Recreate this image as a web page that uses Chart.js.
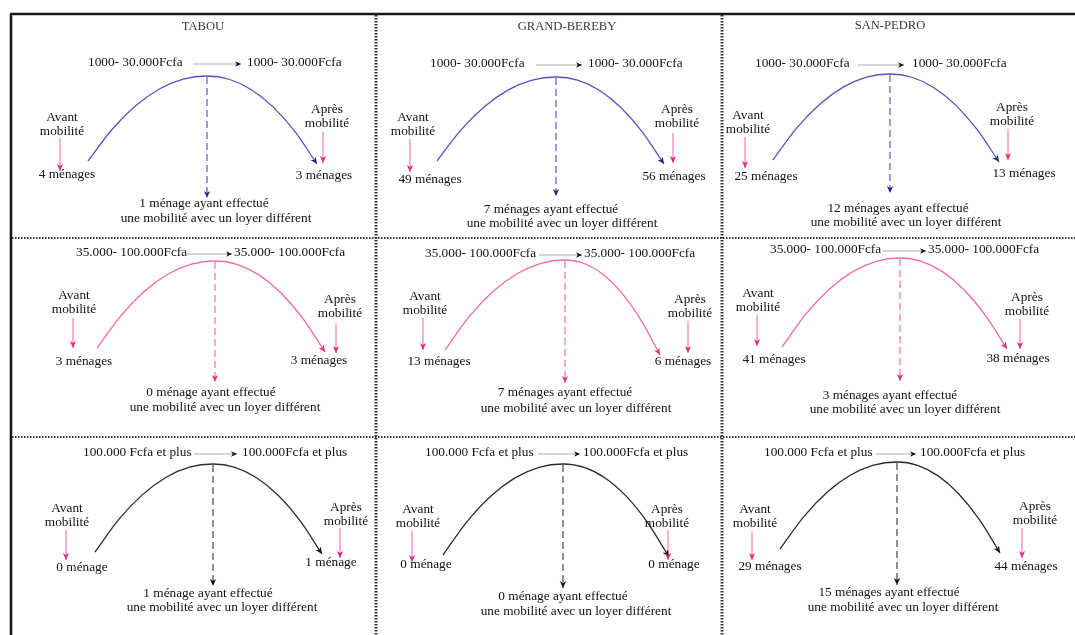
<!DOCTYPE html>
<html><head><meta charset="utf-8">
<script src="https://cdn.jsdelivr.net/npm/chart.js@4.4.0/dist/chart.umd.min.js"></script>
<style>html,body{margin:0;padding:0;background:#fff;}#wrap{width:1075px;height:635px;}</style>
</head><body><div id="wrap"><canvas id="c" width="1075" height="635"></canvas></div>
<script>
// ---- data ----
const cities = ['TABOU', 'GRAND-BEREBY', 'SAN-PEDRO'];
const rentBefore = ['1000- 30.000Fcfa', '35.000- 100.000Fcfa', '100.000 Fcfa et plus'];
const rentAfter = ['1000- 30.000Fcfa', '35.000- 100.000Fcfa', '100.000Fcfa et plus'];
const householdsBefore = [[4, 49, 25], [3, 13, 41], [0, 0, 29]];
const householdsAfter = [[3, 56, 13], [3, 6, 38], [1, 0, 44]];
const householdsChanged = [[1, 7, 12], [0, 7, 3], [1, 0, 15]];
const labelAvant = ['Avant', 'mobilité'];
const labelApres = ['Après', 'mobilité'];
const labelChanged1 = 'ayant effectué';
const labelChanged2 = 'une mobilité avec un loyer différent';

// ---- layout (pixel positions of each panel's parts) ----
const titlePos = [[203, 27], [567, 27], [890, 26]];
const L = [
 [
  {lx:88, ly:63, ax1:193, ax2:241, rx:247, s:[88,161], a:[207,76], e:[317,164], d:198, av:[62,118], avA:[60,138,171], bc:[67,175], ap:[327,110], apA:[323,132,163], ac:[324,176], b1:[204,204], b2:[216,219]},
  {lx:430, ly:64, ax1:536, ax2:582, rx:588, s:[437,161], a:[556,77], e:[664,164], d:196, av:[413,118], avA:[410,139,172], bc:[430,180], ap:[677,110], apA:[673,133,163], ac:[674,177], b1:[551,210], b2:[562,224]},
  {lx:755, ly:64, ax1:858, ax2:904, rx:912, s:[773,160], a:[890,74], e:[999,162], d:193, av:[748,116], avA:[745,137,168], bc:[766,177], ap:[1012,108], apA:[1008,129,160], ac:[1024,174], b1:[898,209], b2:[906,223]}
 ],
 [
  {lx:76, ly:253, ax1:187, ax2:232, rx:234, s:[97,348], a:[215,261], e:[325,352], d:382, av:[74,296], avA:[73,318,348], bc:[84,362], ap:[340,300], apA:[336,323,353], ac:[319,361], b1:[211,393], b2:[225,408]},
  {lx:425, ly:254, ax1:539, ax2:582, rx:584, s:[445,350], a:[565,260], e:[660,355], d:383, av:[425,297], avA:[423,318,350], bc:[439,362], ap:[690,300], apA:[688,321,353], ac:[683,362], b1:[565,393], b2:[576,409]},
  {lx:770, ly:250, ax1:882, ax2:926, rx:928, s:[782,347], a:[900,258], e:[1007,349], d:381, av:[758,294], avA:[757,315,346], bc:[774,360], ap:[1027,298], apA:[1020,319,349], ac:[1018,359], b1:[890,396], b2:[905,410]}
 ],
 [
  {lx:83, ly:453, ax1:194, ax2:237, rx:242, s:[95,552], a:[213,464], e:[322,554], d:586, av:[67,509], avA:[66,530,560], bc:[82,568], ap:[346,508], apA:[340,528,558], ac:[331,563], b1:[208,594], b2:[222,608]},
  {lx:425, ly:453, ax1:538, ax2:580, rx:583, s:[443,555], a:[563,464], e:[669,557], d:588, av:[418,510], avA:[412,531,562], bc:[426,565], ap:[667,510], apA:[668,530,560], ac:[674,565], b1:[563,597], b2:[576,612]},
  {lx:764, ly:453, ax1:876, ax2:916, rx:920, s:[780,549], a:[897,462], e:[1000,553], d:585, av:[755,510], avA:[752,531,560], bc:[770,567], ap:[1035,507], apA:[1022,528,558], ac:[1026,567], b1:[889,593], b2:[903,608]}
 ]
];
const arcSteps = [1, 0.8, 0.6, 0.4, 0.2, 0]; // fractions along each half of the arc
const arcShape = 2.05;                        // roundness of the arc hump
const rowArc = ['#5a50bd', '#f06aaa', '#2b2b2b'];
const rowDash = ['#6a66cf', '#f27ab8', '#555555'];
const rowHead = ['#26268a', '#e2307f', '#111111'];
const pinkShaft = '#f27fb6';
const pinkHead = '#e5287f';
const FONT = '13.3px "Liberation Serif", "Times New Roman", serif';

function plural(n) { return n > 1 ? 's' : ''; }
function countLabel(n) { return n + ' ménage' + plural(n); }

// geometric path of the hump connector (layout only)
function arcPath(g) {
  const pts = [];
  arcSteps.forEach(u => pts.push({ x: g.a[0] - (g.a[0] - g.s[0]) * u, y: g.a[1] + (g.s[1] - g.a[1]) * Math.pow(u, arcShape) }));
  arcSteps.slice().reverse().slice(1).forEach(u => pts.push({ x: g.a[0] + (g.e[0] - g.a[0]) * u, y: g.a[1] + (g.e[1] - g.a[1]) * Math.pow(u, arcShape) }));
  return pts;
}

// ---- datasets ----
const datasets = [];
for (let r = 0; r < 3; r++) {
  for (let c = 0; c < 3; c++) {
    const g = L[r][c];
    datasets.push({ data: arcPath(g),
      borderColor: rowArc[r], borderWidth: 1.3, tension: 0.3, arrow: rowHead[r], headSize: 7 });
    datasets.push({ data: [{x:g.a[0],y:g.a[1]+1},{x:g.a[0],y:g.d}],
      borderColor: rowDash[r], borderWidth: 1.3, borderDash: [7,4], tension: 0, arrow: rowHead[r], headSize: 7 });
    datasets.push({ data: [{x:g.ax1,y:g.ly+1},{x:g.ax2,y:g.ly+1}],
      borderColor: '#9a9a9a', borderWidth: 0.8, tension: 0, arrow: '#111', headSize: 6 });
    datasets.push({ data: [{x:g.avA[0],y:g.avA[1]},{x:g.avA[0],y:g.avA[2]}],
      borderColor: pinkShaft, borderWidth: 1.2, tension: 0, arrow: pinkHead, headSize: 7 });
    datasets.push({ data: [{x:g.apA[0],y:g.apA[1]},{x:g.apA[0],y:g.apA[2]}],
      borderColor: pinkShaft, borderWidth: 1.2, tension: 0, arrow: pinkHead, headSize: 7 });
  }
}

const framePlugin = {
  id: 'frame',
  beforeDatasetsDraw(chart) {
    const ctx = chart.ctx, X = chart.scales.x, Y = chart.scales.y;
    const px = v => X.getPixelForValue(v), py = v => Y.getPixelForValue(v);
    ctx.save();
    ctx.strokeStyle = '#1a1a1a'; ctx.lineWidth = 2.6; ctx.setLineDash([]);
    ctx.beginPath(); ctx.moveTo(px(10), py(14)); ctx.lineTo(px(1075), py(14)); ctx.stroke();
    ctx.beginPath(); ctx.moveTo(px(11), py(14)); ctx.lineTo(px(11), py(635)); ctx.stroke();
    ctx.strokeStyle = '#333'; ctx.lineWidth = 3; ctx.setLineDash([1.5, 1.5]);
    [376, 722].forEach(x => { ctx.beginPath(); ctx.moveTo(px(x), py(15)); ctx.lineTo(px(x), py(635)); ctx.stroke(); });
    ctx.lineWidth = 2;
    [238, 437].forEach(y => { ctx.beginPath(); ctx.moveTo(px(12), py(y)); ctx.lineTo(px(1075), py(y)); ctx.stroke(); });
    ctx.restore();
  },
  afterDatasetsDraw(chart) {
    const ctx = chart.ctx, X = chart.scales.x, Y = chart.scales.y;
    const px = v => X.getPixelForValue(v), py = v => Y.getPixelForValue(v);
    ctx.save();
    // arrowheads
    chart.data.datasets.forEach((ds, i) => {
      if (!ds.arrow) return;
      const pts = chart.getDatasetMeta(i).data;
      const tip = pts[pts.length - 1];
      let fx, fy;
      if (ds.tension > 0 && tip.cp1x !== undefined) { fx = tip.cp1x; fy = tip.cp1y; }
      else { fx = pts[pts.length - 2].x; fy = pts[pts.length - 2].y; }
      const ang = Math.atan2(tip.y - fy, tip.x - fx);
      const s = ds.headSize;
      ctx.fillStyle = ds.arrow;
      ctx.beginPath();
      ctx.moveTo(tip.x, tip.y);
      ctx.lineTo(tip.x - s * Math.cos(ang) + s * 0.45 * Math.sin(ang), tip.y - s * Math.sin(ang) - s * 0.45 * Math.cos(ang));
      ctx.lineTo(tip.x - s * 0.7 * Math.cos(ang), tip.y - s * 0.7 * Math.sin(ang));
      ctx.lineTo(tip.x - s * Math.cos(ang) - s * 0.45 * Math.sin(ang), tip.y - s * Math.sin(ang) + s * 0.45 * Math.cos(ang));
      ctx.closePath(); ctx.fill();
    });
    // texts
    ctx.textBaseline = 'middle';
    ctx.fillStyle = '#3a3a3a'; ctx.textAlign = 'center';
    ctx.font = '12.6px "Liberation Serif", serif';
    cities.forEach((t, c) => ctx.fillText(t, px(titlePos[c][0]), py(titlePos[c][1])));
    ctx.font = FONT; ctx.fillStyle = '#111';
    for (let r = 0; r < 3; r++) {
      for (let c = 0; c < 3; c++) {
        const g = L[r][c];
        ctx.textAlign = 'left';
        ctx.fillText(rentBefore[r], px(g.lx), py(g.ly));
        ctx.fillText(rentAfter[r], px(g.rx), py(g.ly));
        ctx.textAlign = 'center';
        ctx.fillText(labelAvant[0], px(g.av[0]), py(g.av[1]));
        ctx.fillText(labelAvant[1], px(g.av[0]), py(g.av[1] + 14));
        ctx.fillText(labelApres[0], px(g.ap[0]), py(g.ap[1]));
        ctx.fillText(labelApres[1], px(g.ap[0]), py(g.ap[1] + 14));
        ctx.fillText(countLabel(householdsBefore[r][c]), px(g.bc[0]), py(g.bc[1]));
        ctx.fillText(countLabel(householdsAfter[r][c]), px(g.ac[0]), py(g.ac[1]));
        ctx.fillText(countLabel(householdsChanged[r][c]) + ' ' + labelChanged1, px(g.b1[0]), py(g.b1[1]));
        ctx.fillText(labelChanged2, px(g.b2[0]), py(g.b2[1]));
      }
    }
    ctx.restore();
  }
};

new Chart(document.getElementById('c'), {
  type: 'scatter',
  data: { datasets: datasets.map(d => Object.assign({ showLine: true, pointRadius: 0, pointHoverRadius: 0, fill: false }, d)) },
  options: {
    responsive: false, animation: false, devicePixelRatio: 1,
    layout: { padding: 0 },
    scales: {
      x: { type: 'linear', min: 0, max: 1075, display: false },
      y: { type: 'linear', min: 0, max: 635, reverse: true, display: false }
    },
    plugins: { legend: { display: false }, tooltip: { enabled: false } },
    events: []
  },
  plugins: [framePlugin]
});
</script>
</body></html>
